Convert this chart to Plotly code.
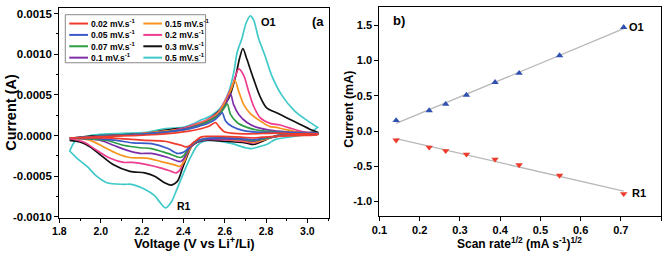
import numpy as np
import plotly.graph_objects as go

W, H = 666, 257

# ---------------- Panel (a): cyclic voltammograms ----------------
RATE_LABELS = ["0.02", "0.05", "0.07", "0.1", "0.15", "0.2", "0.3", "0.5"]
COLORS = ["#EF3B2C", "#3A5BC7", "#2E9E45", "#7E2FA8", "#F7941D", "#EE3D8F", "#111111", "#3FC9C9"]

# each loop: anodic branch 1.85 -> 3.05 then cathodic branch 3.05 -> 1.85 (current in mA)
V_002 = [1.85, 1.95, 2.05, 2.15, 2.25, 2.35, 2.42, 2.48, 2.52, 2.54, 2.556, 2.572, 2.596, 2.63, 2.72, 2.85, 2.95, 3.05,
         3.05, 2.95, 2.85, 2.78, 2.74, 2.68, 2.58, 2.52, 2.484, 2.452, 2.428, 2.41, 2.39, 2.357, 2.309, 2.22, 2.11, 2.0, 1.9, 1.85]
I_002 = [-0.03, -0.02, -0.01, 0.0, 0.01, 0.03, 0.05, 0.08, 0.11, 0.14, 0.16, 0.11, 0.05, 0.03, 0.02, 0.03, 0.02, 0.02,
         0.01, 0.0, -0.01, -0.02, -0.03, -0.02, -0.01, -0.01, -0.02, -0.08, -0.13, -0.14, -0.12, -0.10, -0.07, -0.06, -0.04, -0.03, -0.03, -0.03]

V_005 = [1.85, 2.0, 2.15, 2.3, 2.4, 2.47, 2.52, 2.555, 2.575, 2.588, 2.604, 2.636, 2.692, 2.771, 2.88, 2.97, 3.05,
         3.05, 2.95, 2.85, 2.79, 2.74, 2.68, 2.58, 2.5, 2.46, 2.435, 2.415, 2.396, 2.372, 2.325, 2.245, 2.157, 2.078, 2.0, 1.9, 1.85]
I_005 = [-0.03, -0.01, 0.01, 0.04, 0.07, 0.11, 0.15, 0.20, 0.25, 0.28, 0.18, 0.11, 0.06, 0.04, 0.04, 0.03, 0.03,
         0.02, 0.01, -0.01, -0.03, -0.05, -0.04, -0.03, -0.04, -0.07, -0.12, -0.18, -0.21, -0.22, -0.16, -0.10, -0.09, -0.06, -0.04, -0.03, -0.03]

V_007 = [1.85, 2.0, 2.15, 2.3, 2.4, 2.47, 2.52, 2.57, 2.595, 2.612, 2.628, 2.66, 2.708, 2.771, 2.883, 2.97, 3.05,
         3.05, 2.95, 2.85, 2.79, 2.74, 2.68, 2.58, 2.5, 2.46, 2.428, 2.404, 2.385, 2.325, 2.245, 2.19, 2.11, 2.03, 1.95, 1.85]
I_007 = [-0.03, -0.01, 0.01, 0.04, 0.07, 0.12, 0.17, 0.25, 0.33, 0.39, 0.26, 0.16, 0.10, 0.06, 0.04, 0.03, 0.03,
         0.02, 0.01, -0.01, -0.04, -0.06, -0.04, -0.03, -0.04, -0.08, -0.14, -0.24, -0.27, -0.22, -0.16, -0.15, -0.12, -0.06, -0.04, -0.03]

V_01 = [1.85, 2.0, 2.15, 2.3, 2.4, 2.47, 2.52, 2.57, 2.60, 2.628, 2.643, 2.668, 2.708, 2.756, 2.835, 2.93, 3.05,
        3.05, 2.95, 2.85, 2.79, 2.74, 2.68, 2.58, 2.5, 2.46, 2.428, 2.404, 2.385, 2.325, 2.245, 2.19, 2.125, 2.062, 2.0, 1.92, 1.85]
I_01 = [-0.03, -0.01, 0.01, 0.04, 0.08, 0.13, 0.18, 0.26, 0.36, 0.51, 0.38, 0.26, 0.16, 0.10, 0.06, 0.04, 0.03,
        0.02, 0.01, -0.01, -0.04, -0.07, -0.05, -0.04, -0.05, -0.09, -0.16, -0.28, -0.32, -0.27, -0.22, -0.22, -0.18, -0.12, -0.06, -0.04, -0.03]

V_015 = [1.85, 2.0, 2.15, 2.3, 2.4, 2.47, 2.52, 2.57, 2.60, 2.63, 2.649, 2.668, 2.692, 2.724, 2.771, 2.819, 2.85, 2.883, 2.963, 3.05,
         3.05, 2.95, 2.85, 2.79, 2.74, 2.68, 2.58, 2.5, 2.46, 2.444, 2.42, 2.404, 2.381, 2.357, 2.293, 2.229, 2.141, 2.078, 2.014, 1.95, 1.9, 1.85]
I_015 = [-0.03, -0.01, 0.01, 0.05, 0.08, 0.14, 0.19, 0.28, 0.40, 0.56, 0.68, 0.54, 0.38, 0.27, 0.18, 0.11, 0.10, 0.08, 0.04, 0.03,
         0.02, 0.01, -0.01, -0.05, -0.08, -0.06, -0.04, -0.05, -0.08, -0.12, -0.22, -0.32, -0.38, -0.36, -0.32, -0.28, -0.27, -0.22, -0.14, -0.06, -0.04, -0.03]

V_02 = [1.85, 2.0, 2.15, 2.3, 2.4, 2.47, 2.52, 2.57, 2.60, 2.64, 2.668, 2.692, 2.716, 2.74, 2.771, 2.819, 2.867, 2.931, 3.01, 3.05,
        3.05, 2.95, 2.85, 2.79, 2.74, 2.68, 2.58, 2.5, 2.468, 2.428, 2.404, 2.389, 2.365, 2.341, 2.293, 2.229, 2.149, 2.11, 2.046, 1.98, 1.918, 1.85]
I_02 = [-0.04, -0.01, 0.01, 0.05, 0.09, 0.15, 0.20, 0.29, 0.42, 0.64, 0.82, 0.74, 0.54, 0.36, 0.22, 0.15, 0.13, 0.08, 0.03, 0.03,
        0.02, 0.01, -0.01, -0.05, -0.09, -0.07, -0.05, -0.05, -0.07, -0.14, -0.28, -0.40, -0.46, -0.44, -0.40, -0.36, -0.33, -0.33, -0.28, -0.18, -0.08, -0.04]

V_03 = [1.85, 1.9, 2.0, 2.2, 2.3, 2.35, 2.4, 2.444, 2.508, 2.572, 2.62, 2.652, 2.672, 2.688, 2.707, 2.739, 2.771, 2.803, 2.851, 2.899, 2.963, 3.027, 3.05,
        3.05, 2.95, 2.85, 2.8, 2.74, 2.7, 2.6, 2.5, 2.444, 2.42, 2.396, 2.372, 2.341, 2.309, 2.261, 2.213, 2.141, 2.062, 2.0, 1.95, 1.9, 1.85]
I_03 = [-0.06, -0.02, 0.0, 0.02, 0.06, 0.08, 0.09, 0.12, 0.18, 0.30, 0.46, 0.72, 0.95, 1.07, 0.94, 0.70, 0.48, 0.34, 0.28, 0.22, 0.14, 0.06, 0.04,
        0.02, 0.01, 0.0, -0.05, -0.11, -0.09, -0.07, -0.06, -0.12, -0.24, -0.40, -0.56, -0.61, -0.58, -0.50, -0.46, -0.44, -0.36, -0.24, -0.14, -0.08, -0.06]

V_05 = [1.85, 1.88, 1.95, 2.03, 2.22, 2.3, 2.35, 2.4, 2.444, 2.484, 2.532, 2.58, 2.62, 2.644, 2.66, 2.684, 2.703, 2.723, 2.74, 2.763, 2.795, 2.827, 2.875, 2.939, 3.002, 3.05,
        3.05, 3.0, 2.907, 2.843, 2.81, 2.763, 2.731, 2.70, 2.636, 2.54, 2.50, 2.468, 2.436, 2.404, 2.372, 2.341, 2.313, 2.28, 2.261, 2.213, 2.149, 2.11, 2.03, 1.98, 1.934, 1.886, 1.85]
I_05 = [-0.19, -0.06, 0.0, 0.02, 0.04, 0.08, 0.09, 0.10, 0.14, 0.19, 0.24, 0.34, 0.54, 0.78, 1.02, 1.20, 1.38, 1.47, 1.42, 1.20, 0.98, 0.74, 0.50, 0.30, 0.18, 0.10,
        0.10, 0.02, -0.02, -0.05, -0.10, -0.14, -0.16, -0.15, -0.10, -0.06, -0.07, -0.12, -0.26, -0.44, -0.64, -0.82, -0.89, -0.80, -0.74, -0.66, -0.60, -0.60, -0.58, -0.50, -0.38, -0.28, -0.19]

LOOPS_V = [V_002, V_005, V_007, V_01, V_015, V_02, V_03, V_05]
LOOPS_I = [I_002, I_005, I_007, I_01, I_015, I_02, I_03, I_05]

A_XTICKS = [1.8, 2.0, 2.2, 2.4, 2.6, 2.8, 3.0]
A_XTICKTEXT = ["1.8", "2.0", "2.2", "2.4", "2.6", "2.8", "3.0"]
A_YTICKS = [-0.0010, -0.0005, 0.0, 0.0005, 0.0010, 0.0015]
A_YTICKTEXT = ["-0.0010", "-0.0005", "0.0000", "0.0005", "0.0010", "0.0015"]

# ---------------- Panel (b): peak current vs sqrt(scan rate) ----------------
SCAN_RATES = [0.02, 0.05, 0.07, 0.1, 0.15, 0.2, 0.3, 0.5]
O1_CURRENT = [0.15, 0.29, 0.38, 0.51, 0.69, 0.82, 1.07, 1.47]
R1_CURRENT = [-0.13, -0.23, -0.28, -0.33, -0.40, -0.48, -0.63, -0.89]

B_XTICKS = [0.1, 0.2, 0.3, 0.4, 0.5, 0.6, 0.7, 0.8]
B_XTICKTEXT = ["0.1", "0.2", "0.3", "0.4", "0.5", "0.6", "0.7", "0.8"]
B_YTICKS = [-1.0, -0.5, 0.0, 0.5, 1.0, 1.5]
B_YTICKTEXT = ["-1.0", "-0.5", "0.0", "0.5", "1.0", "1.5"]

FONT = "Liberation Sans"

fig = go.Figure()

# CV loops (largest first so slower rates lie on top)
for k in reversed(range(len(LOOPS_V))):
    v = list(LOOPS_V[k]) + [LOOPS_V[k][0]]
    i = [c * 1e-3 for c in LOOPS_I[k]] + [LOOPS_I[k][0] * 1e-3]
    fig.add_trace(go.Scatter(x=v, y=i, mode="lines", showlegend=False,
                             line=dict(color=COLORS[k], width=1.7, shape="spline", smoothing=0.8),
                             xaxis="x", yaxis="y", name=RATE_LABELS[k] + " mV/s"))

# Panel b
sr = np.sqrt(np.array(SCAN_RATES))
xfit = np.array([sr.min(), sr.max()])
for vals in (O1_CURRENT, R1_CURRENT):
    p = np.polyfit(sr, np.array(vals), 1)
    fig.add_trace(go.Scatter(x=xfit, y=np.polyval(p, xfit), mode="lines", showlegend=False,
                             line=dict(color="#b8b8b8", width=1.3), xaxis="x2", yaxis="y2"))
fig.add_trace(go.Scatter(x=sr, y=O1_CURRENT, mode="markers", showlegend=False, name="O1",
                         marker=dict(symbol="triangle-up", size=6.5, color="#3050B0"), xaxis="x2", yaxis="y2"))
fig.add_trace(go.Scatter(x=sr, y=R1_CURRENT, mode="markers", showlegend=False, name="R1",
                         marker=dict(symbol="triangle-down", size=6.5, color="#EE3A2A"), xaxis="x2", yaxis="y2"))

def px(x):
    return x / W

def py(y):
    return 1 - y / H

def axis_common(fs):
    return dict(showline=True, linecolor="black", linewidth=1.3, mirror=True, ticks="outside",
                ticklen=4, tickwidth=1.2, tickcolor="black", showgrid=False, zeroline=False,
                tickfont=dict(family=FONT, size=fs, color="black", weight="bold"))

fig.update_layout(
    width=W, height=H, margin=dict(l=0, r=0, t=0, b=0),
    paper_bgcolor="white", plot_bgcolor="white", showlegend=False,
    xaxis=dict(domain=[px(52), px(325)], range=[1.8, 3.105], anchor="y",
               tickvals=A_XTICKS, ticktext=A_XTICKTEXT,
               minor=dict(dtick=0.1, ticks="outside", ticklen=2, tickwidth=1, tickcolor="black"),
               **axis_common(10.5)),
    yaxis=dict(domain=[py(222), py(8)], range=[-0.00101, 0.00157], anchor="x",
               tickvals=A_YTICKS, ticktext=A_YTICKTEXT,
               minor=dict(dtick=0.00025, tick0=0, ticks="outside", ticklen=2, tickwidth=1, tickcolor="black"),
               **axis_common(11.5)),
    xaxis2=dict(domain=[px(376), px(661)], range=[0.1, 0.8], anchor="y2",
                tickvals=B_XTICKS, ticktext=B_XTICKTEXT, **axis_common(11)),
    yaxis2=dict(domain=[py(220), py(7)], range=[-1.2, 1.76], anchor="x2",
                tickvals=B_YTICKS, ticktext=B_YTICKTEXT, **axis_common(11)),
)

bold = lambda s: dict(family=FONT, size=s, color="black", weight="bold")
ann = []
# axis titles
ann.append(dict(text="Voltage (V vs Li<sup>+</sup>/Li)", x=px(189), y=0, xref="paper", yref="paper",
                showarrow=False, font=bold(13), xanchor="center", yanchor="bottom", borderpad=0))
ann.append(dict(text="Current (A)", x=px(3), y=py(114), xref="paper", yref="paper", textangle=-90,
                showarrow=False, font=bold(14.5), xanchor="center", yanchor="middle"))
ann.append(dict(text="Scan rate<sup>1/2</sup> (mA s<sup>-1</sup>)<sup>1/2</sup>", x=px(518), y=0,
                xref="paper", yref="paper", showarrow=False, font=bold(12), xanchor="center",
                yanchor="bottom", borderpad=0))
ann.append(dict(text="Current (mA)", x=px(345), y=py(111), xref="paper", yref="paper", textangle=-90,
                showarrow=False, font=bold(12.5), xanchor="center", yanchor="middle"))
# panel labels
ann.append(dict(text="O1", x=2.81, y=0.00139, xref="x", yref="y", showarrow=False, font=bold(11)))
ann.append(dict(text="(a", x=3.05, y=0.00140, xref="x", yref="y", showarrow=False, font=bold(13)))
ann.append(dict(text="R1", x=2.405, y=-0.00087, xref="x", yref="y", showarrow=False, font=bold(10.5)))
ann.append(dict(text="b)", x=0.148, y=1.56, xref="x2", yref="y2", showarrow=False, font=bold(13)))
ann.append(dict(text="O1", x=0.738, y=1.47, xref="x2", yref="y2", showarrow=False, font=bold(11)))
ann.append(dict(text="R1", x=0.745, y=-0.88, xref="x2", yref="y2", showarrow=False, font=bold(11)))

# legend (two columns inside panel a)
shapes = [dict(type="rect", xref="paper", yref="paper", x0=px(58), x1=px(200), y0=py(64), y1=py(15),
               line=dict(color="#888888", width=1), fillcolor="white", layer="above")]
for k, lab in enumerate(RATE_LABELS):
    col, row = divmod(k, 4)
    x0 = [62, 137][col]
    yy = 24 + row * 11.6
    shapes.append(dict(type="line", xref="paper", yref="paper", x0=px(x0), x1=px(x0 + 19),
                       y0=py(yy), y1=py(yy), line=dict(color=COLORS[k], width=2), layer="above"))
    ann.append(dict(text=lab + " mV.s<sup>-1</sup>", x=px(x0 + 20), y=py(yy), xref="paper", yref="paper",
                    showarrow=False, font=bold(8.5), xanchor="left", yanchor="middle"))

fig.update_layout(annotations=ann, shapes=shapes)
fig.write_html("out.html")
